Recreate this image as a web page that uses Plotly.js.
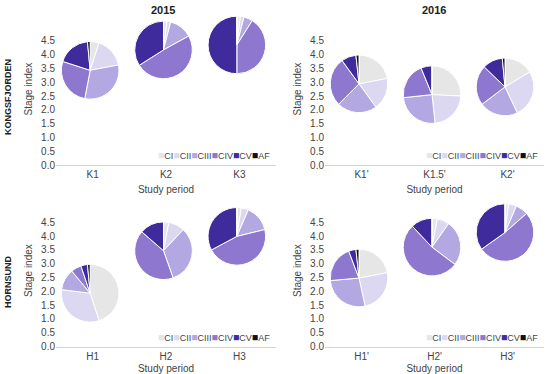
<!DOCTYPE html>
<html>
<head>
<meta charset="utf-8">
<script src="https://cdn.plot.ly/plotly-3.0.1.min.js"></script>
<style>html,body{margin:0;padding:0;background:#fff;}#chart{width:550px;height:374px;}</style>
</head>
<body>
<div id="chart"></div>
<script>
// ---- data ----
const years = ['2015', '2016'];
const sites = ['KONGSFJORDEN', 'HORNSUND'];
const stages = ['CI', 'CII', 'CIII', 'CIV', 'CV', 'AF'];
const stageColors = ['#e6e6e6', '#dcd8f2', '#b3a8e1', '#8e78cf', '#3f2b9c', '#111111'];
const yTicks = [0, 0.5, 1, 1.5, 2, 2.5, 3, 3.5, 4, 4.5];

const periodsK2015 = ['K1', 'K2', 'K3'];
const stageIndexK2015 = [3.43, 4.17, 4.35];
const compK1 = [5, 17, 31, 27, 18.5, 1.5];
const compK2 = [2, 2, 13, 49, 34, 0];
const compK3 = [2, 2, 5, 41, 50, 0];

const periodsK2016 = ["K1'", "K1.5'", "K2'"];
const stageIndexK2016 = [2.94, 2.55, 2.83];
const compK1p = [22, 18, 22.5, 27.5, 8.3, 1.7];
const compK15p = [25.8, 22.5, 25, 20.5, 6.2, 0];
const compK2p = [16.4, 26.6, 21.7, 22.5, 11.3, 1.5];

const periodsH2015 = ['H1', 'H2', 'H3'];
const stageIndexH2015 = [1.93, 3.47, 3.99];
const compH1 = [45, 32, 12, 5.8, 3.7, 1.5];
const compH2 = [3, 9, 32.6, 41.8, 13.6, 0];
const compH3 = [2.5, 4, 14.7, 46, 32.8, 0];

const periodsH2016 = ["H1'", "H2'", "H3'"];
const stageIndexH2016 = [2.48, 3.6, 4.13];
const compH1p = [22, 24.6, 27, 20.6, 4.1, 1.7];
const compH2p = [3, 6.8, 25.5, 52.7, 12, 0];
const compH3p = [2, 4.5, 7, 51.6, 34.8, 0];

// ---- layout geometry (pixels) ----
const W = 550, H = 374, R = 28.8, YMAX = 5.5;
const panels = [
  {periods: periodsK2015, idx: stageIndexK2015, comps: [compK1, compK2, compK3], n: '', xd: [56, 276], yd: [13.2, 165]},
  {periods: periodsK2016, idx: stageIndexK2016, comps: [compK1p, compK15p, compK2p], n: '2', xd: [325, 544], yd: [13.2, 165]},
  {periods: periodsH2015, idx: stageIndexH2015, comps: [compH1, compH2, compH3], n: '3', xd: [56, 276], yd: [194.7, 346.5]},
  {periods: periodsH2016, idx: stageIndexH2016, comps: [compH1p, compH2p, compH3p], n: '4', xd: [325, 544], yd: [194.7, 346.5]}
];

const FONT = 'Liberation Sans, Arial, sans-serif';
const data = [];
const layout = {
  width: W, height: H,
  margin: {l: 0, r: 0, t: 0, b: 0},
  paper_bgcolor: '#fff', plot_bgcolor: '#fff',
  showlegend: false,
  font: {family: FONT, size: 10, color: '#444'},
  annotations: []
};

panels.forEach(p => {
  const xa = 'xaxis' + p.n, ya = 'yaxis' + p.n;
  layout[xa] = {
    domain: [p.xd[0] / W, p.xd[1] / W], anchor: 'y' + p.n,
    type: 'category', range: [-0.5, 2.5],
    showline: true, linecolor: '#d4d4d4', linewidth: 1,
    showgrid: false, zeroline: false, ticks: '',
    tickfont: {size: 10, color: '#444'},
    title: {text: 'Study period', font: {size: 10, color: '#444'}, standoff: 6},
    fixedrange: true
  };
  layout[ya] = {
    domain: [1 - p.yd[1] / H, 1 - p.yd[0] / H], anchor: 'x' + p.n,
    range: [0, YMAX], tickvals: yTicks, ticktext: yTicks.map(v => v.toFixed(1)),
    showline: false, showgrid: false, zeroline: false, ticks: '',
    tickfont: {size: 10, color: '#444'},
    title: {text: 'Stage index', font: {size: 10, color: '#444'}, standoff: 6},
    fixedrange: true
  };
  // invisible anchor trace so the axes exist with the categories
  data.push({
    type: 'scatter', mode: 'markers', x: p.periods, y: p.idx,
    xaxis: 'x' + p.n, yaxis: 'y' + p.n,
    marker: {opacity: 0}, hoverinfo: 'skip', showlegend: false
  });
  // pies placed via the axis scales
  p.periods.forEach((per, i) => {
    const cx = p.xd[0] + (i + 0.5) / 3 * (p.xd[1] - p.xd[0]) - 2.5;
    const cy = p.yd[1] - p.idx[i] / YMAX * (p.yd[1] - p.yd[0]);
    data.push({
      type: 'pie', values: p.comps[i], labels: stages, sort: false,
      direction: 'clockwise', rotation: 0, textinfo: 'none',
      marker: {colors: stageColors, line: {color: '#ffffff', width: 1}},
      domain: {x: [(cx - R) / W, (cx + R) / W], y: [1 - (cy + R) / H, 1 - (cy - R) / H]},
      showlegend: false, hoverinfo: 'label+percent', name: per
    });
  });
  // legend built from stage names/colours
  const legText = stages.map((s, k) => `<span style="color:${stageColors[k]};font-size:10.5px">■</span>${s}`).join('');
  layout.annotations.push({
    text: legText, xref: 'paper', yref: 'paper',
    x: (p.xd[1] - 4) / W, y: 1 - (p.yd[1] - 10) / H, xanchor: 'right', yanchor: 'middle',
    showarrow: false, font: {size: 9, color: '#444', family: FONT}
  });
});

// column titles
years.forEach((yr, k) => {
  layout.annotations.push({
    text: '<b>' + yr + '</b>', xref: 'paper', yref: 'paper',
    x: (k === 0 ? 163 : 434) / W, y: 1 - 10 / H, xanchor: 'center', yanchor: 'middle',
    showarrow: false, font: {size: 11, color: '#222', family: FONT}
  });
});
// row titles
sites.forEach((s, k) => {
  layout.annotations.push({
    text: '<b>' + s + '</b>', xref: 'paper', yref: 'paper', textangle: -90,
    x: 8 / W, y: 1 - (k === 0 ? 97 : 282) / H, xanchor: 'center', yanchor: 'middle',
    showarrow: false, font: {size: 9, color: '#222', family: FONT}
  });
});

Plotly.newPlot('chart', data, layout, {staticPlot: true, displayModeBar: false});
</script>
</body>
</html>
